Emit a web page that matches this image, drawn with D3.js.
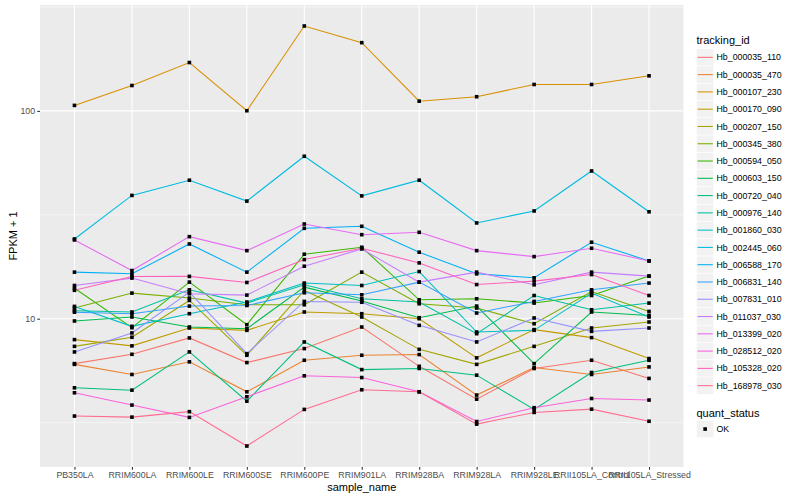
<!DOCTYPE html>
<html><head><meta charset="utf-8">
<script src="https://cdn.jsdelivr.net/npm/d3@7"></script>
<style>body{margin:0;background:#fff} text{font-family:"Liberation Sans",Arial,Helvetica,sans-serif}</style>
</head><body><svg id="c" width="800" height="500"></svg>
<script>
const samples = ["PB350LA","RRIM600LA","RRIM600LE","RRIM600SE","RRIM600PE","RRIM901LA","RRIM928BA","RRIM928LA","RRIM928LE","RRII105LA_Control","RRII105LA_Stressed"];
const trackingIds = ["Hb_000035_110","Hb_000035_470","Hb_000107_230","Hb_000170_090","Hb_000207_150","Hb_000345_380","Hb_000594_050","Hb_000603_150","Hb_000720_040","Hb_000976_140","Hb_001860_030","Hb_002445_060","Hb_006588_170","Hb_006831_140","Hb_007831_010","Hb_011037_030","Hb_013399_020","Hb_028512_020","Hb_105328_020","Hb_168978_030"];
const seriesColors = ["#F8766D","#EA8331","#D89000","#C09B00","#A3A500","#7CAE00","#39B600","#00BB4E","#00BF7D","#00C1A3","#00BFC4","#00BAE0","#00B0F6","#35A2FF","#9590FF","#C77CFF","#E76BF3","#FA62DB","#FF62BC","#FF6C91"];

// FPKM + 1 values, one array per tracking_id, in sample order
const hb_000035_110 = [6.08, 6.74, 8.08, 6.15, 7.18, 9.12, 5.90, 4.10, 5.76, 6.31, 5.16];
const hb_000035_470 = [6.03, 5.39, 6.20, 4.45, 6.31, 6.67, 6.72, 4.29, 5.82, 5.39, 5.86];
const hb_000107_230 = [106.3, 132.5, 170.9, 100.2, 256.2, 213.0, 111.4, 117.0, 134.0, 134.0, 147.5];
const hb_000170_090 = [7.93, 7.40, 9.02, 8.79, 10.77, 10.57, 10.0, 6.48, 8.86, 8.11, 6.43];
const hb_000207_150 = [7.36, 8.14, 12.24, 6.67, 13.67, 10.19, 7.12, 6.03, 7.36, 9.02, 9.64];
const hb_000345_380 = [11.25, 13.28, 12.57, 11.67, 11.67, 16.75, 11.80, 11.25, 9.46, 13.52, 10.84];
const hb_000594_050 = [14.01, 9.05, 15.00, 9.36, 20.43, 22.07, 12.33, 12.47, 11.89, 12.93, 16.03];
const hb_000603_150 = [9.75, 10.19, 9.12, 8.95, 14.19, 12.16, 10.11, 11.50, 6.08, 10.77, 10.37];
const hb_000720_040 = [4.65, 4.53, 6.92, 4.01, 7.73, 5.69, 5.76, 5.35, 3.66, 5.51, 6.31];
const hb_000976_140 = [10.92, 10.77, 13.77, 11.89, 14.56, 12.47, 12.03, 8.47, 12.93, 11.04, 11.89];
const hb_001860_030 = [11.46, 9.19, 10.57, 12.03, 14.84, 14.45, 16.86, 8.63, 8.79, 13.28, 10.19];
const hb_002445_060 = [24.19, 39.2, 46.4, 36.8, 60.5, 39.0, 46.4, 28.9, 33.0, 51.4, 32.7];
const hb_006588_170 = [16.75, 16.44, 22.89, 16.75, 27.23, 27.84, 20.89, 16.44, 15.73, 23.33, 18.97];
const hb_006831_140 = [10.75, 10.57, 11.50, 11.58, 13.33, 13.03, 15.00, 10.65, 12.11, 13.77, 14.84];
const hb_007831_010 = [6.92, 8.54, 13.43, 6.79, 12.11, 12.00, 9.29, 7.73, 10.08, 8.69, 9.02];
const hb_011037_030 = [14.45, 15.68, 13.18, 12.99, 17.89, 21.66, 15.00, 16.75, 14.56, 16.75, 16.03];
const hb_013399_020 = [23.93, 17.05, 24.82, 21.26, 28.55, 25.37, 26.05, 21.26, 19.90, 21.83, 18.97];
const hb_028512_020 = [4.40, 3.84, 3.35, 4.21, 5.31, 5.21, 4.45, 3.20, 3.73, 4.13, 4.06];
const hb_105328_020 = [13.70, 15.96, 15.98, 14.94, 19.25, 21.83, 18.56, 14.60, 15.17, 16.31, 12.93];
const hb_168978_030 = [3.40, 3.36, 3.57, 2.44, 3.66, 4.55, 4.45, 3.11, 3.54, 3.67, 3.21];

const yMajorTicks = [10, 100];
const yMinorTicks = [Math.pow(10,0.5), Math.pow(10,1.5), Math.pow(10,2.5)];
const statusLabels = ["OK"];

const seriesValues = [hb_000035_110,hb_000035_470,hb_000107_230,hb_000170_090,hb_000207_150,hb_000345_380,hb_000594_050,hb_000603_150,hb_000720_040,hb_000976_140,hb_001860_030,hb_002445_060,hb_006588_170,hb_006831_140,hb_007831_010,hb_011037_030,hb_013399_020,hb_028512_020,hb_105328_020,hb_168978_030];
const series = trackingIds.map((id,i)=>({id, color:seriesColors[i], values:seriesValues[i]}));

const svg = d3.select("#c");
const P = {l:40, r:683.5, t:5, b:467};

const x = d3.scalePoint().domain(samples).range([P.l, P.r]).padding(0.6);
const all = series.flatMap(s=>s.values);
const ext = d3.extent(all).map(Math.log10);
const pad = (ext[1]-ext[0])*0.05;
const y = d3.scaleLog().domain([Math.pow(10,ext[0]-pad), Math.pow(10,ext[1]+pad)]).range([P.b, P.t]);

svg.append("rect").attr("x",P.l).attr("y",P.t).attr("width",P.r-P.l).attr("height",P.b-P.t).attr("fill","#EBEBEB");

const grid = svg.append("g");
grid.selectAll(".ymin").data(yMinorTicks.filter(v=>v>y.domain()[0]&&v<y.domain()[1])).join("line")
  .attr("x1",P.l).attr("x2",P.r).attr("y1",d=>y(d)).attr("y2",d=>y(d)).attr("stroke","#fff").attr("stroke-width",0.53);
grid.selectAll(".ymaj").data(yMajorTicks).join("line")
  .attr("x1",P.l).attr("x2",P.r).attr("y1",d=>y(d)).attr("y2",d=>y(d)).attr("stroke","#fff").attr("stroke-width",1.07);
grid.selectAll(".xmaj").data(samples).join("line")
  .attr("x1",d=>x(d)).attr("x2",d=>x(d)).attr("y1",P.t).attr("y2",P.b).attr("stroke","#fff").attr("stroke-width",1.07);

const line = d3.line().x((d,i)=>x(samples[i])).y(d=>y(d));
svg.append("g").selectAll("path").data(series).join("path")
  .attr("d",d=>line(d.values)).attr("fill","none").attr("stroke",d=>d.color).attr("stroke-width",1.07);

const pts = series.flatMap(s=>s.values.map((v,i)=>({v, s:samples[i]})));
const ps = 3.6;
svg.append("g").selectAll("rect").data(pts).join("rect")
  .attr("x",d=>x(d.s)-ps/2).attr("y",d=>y(d.v)-ps/2).attr("width",ps).attr("height",ps).attr("fill","#000");

// axes
const yAxis = svg.append("g").attr("transform",`translate(${P.l},0)`)
  .call(d3.axisLeft(y).tickValues(yMajorTicks).tickFormat(d3.format("d")).tickSize(2.75).tickPadding(2.2));
const xAxis = svg.append("g").attr("transform",`translate(0,${P.b})`)
  .call(d3.axisBottom(x).tickSize(2.75).tickPadding(2.2));
[yAxis,xAxis].forEach(a=>{
  a.select(".domain").remove();
  a.selectAll(".tick line").attr("stroke","#333333").attr("stroke-width",1.07);
  a.selectAll(".tick text").attr("fill","#4D4D4D").style("font-size","8.8px").style("font-family",'"Liberation Sans",Arial,sans-serif');
});

svg.append("text").attr("x",(P.l+P.r)/2).attr("y",491).attr("text-anchor","middle").style("font-size","11px").attr("fill","#000").text("sample_name");
svg.append("text").attr("transform",`translate(17,${(P.t+P.b)/2}) rotate(-90)`).attr("text-anchor","middle").style("font-size","11px").attr("fill","#000").text("FPKM + 1");

// legend
const L = {x:696.5, key:17.28};
const leg = svg.append("g");
leg.append("text").attr("x",L.x).attr("y",43.5).style("font-size","11px").attr("fill","#000").text("tracking_id");
const k0 = 48.7;
const items = leg.selectAll(".item").data(series).join("g").attr("transform",(d,i)=>`translate(${L.x},${k0+i*L.key})`);
items.append("rect").attr("width",L.key).attr("height",L.key).attr("fill","#F2F2F2").attr("stroke","#fff").attr("stroke-width",0.6);
items.append("line").attr("x1",1).attr("x2",L.key-1).attr("y1",L.key/2).attr("y2",L.key/2).attr("stroke",d=>d.color).attr("stroke-width",1.07);
items.append("text").attr("x",L.key+2.75).attr("y",L.key/2+3.1).style("font-size","8.8px").attr("fill","#000").text(d=>d.id);

leg.append("text").attr("x",L.x).attr("y",416.5).style("font-size","11px").attr("fill","#000").text("quant_status");
const q = leg.selectAll(".q").data(statusLabels).join("g").attr("transform",(d,i)=>`translate(${L.x},${420.4+i*L.key})`);
q.append("rect").attr("width",L.key).attr("height",L.key).attr("fill","#F2F2F2").attr("stroke","#fff").attr("stroke-width",0.6);
q.append("rect").attr("x",L.key/2-ps/2).attr("y",L.key/2-ps/2).attr("width",ps).attr("height",ps).attr("fill","#000");
q.append("text").attr("x",L.key+2.75).attr("y",L.key/2+3.1).style("font-size","8.8px").attr("fill","#000").text(d=>d);
</script></body></html>
